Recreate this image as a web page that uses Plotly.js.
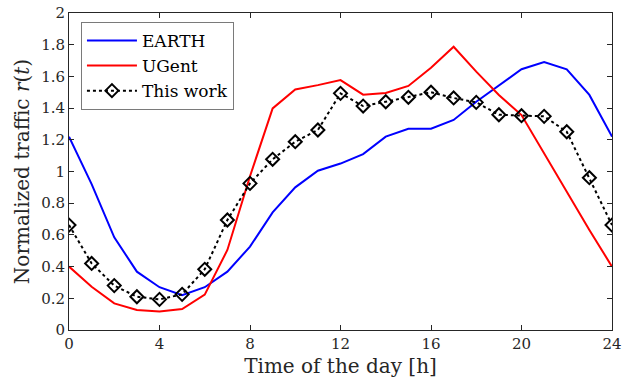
<!DOCTYPE html>
<html>
<head>
<meta charset="utf-8">
<script src="https://cdn.plot.ly/plotly-3.0.1.min.js"></script>
<style>html,body{margin:0;padding:0;background:#fff;}#chart{width:622px;height:387px;}</style>
</head>
<body>
<div id="chart"></div>
<script>
const hours = [0,1,2,3,4,5,6,7,8,9,10,11,12,13,14,15,16,17,18,19,20,21,22,23,24];
const earth = [1.22,0.92,0.585,0.368,0.27,0.22,0.27,0.368,0.526,0.742,0.90,1.005,1.05,1.11,1.22,1.27,1.27,1.325,1.44,1.545,1.645,1.69,1.645,1.483,1.22];
const ugent = [0.40,0.273,0.168,0.126,0.116,0.132,0.223,0.505,0.97,1.398,1.518,1.545,1.577,1.485,1.495,1.54,1.655,1.787,1.63,1.483,1.356,1.115,0.873,0.631,0.40];
const thisWork = [0.662,0.42,0.28,0.21,0.193,0.225,0.383,0.694,0.925,1.077,1.188,1.262,1.493,1.413,1.44,1.468,1.50,1.464,1.436,1.358,1.352,1.348,1.251,0.961,0.662];
const xTicks = [0,4,8,12,16,20,24];

const font = 'DejaVu Serif, Liberation Serif, serif';
const axisColor = '#262626';

const traces = [
  {x: hours, y: earth, name: 'EARTH', mode: 'lines', line: {color: '#0000ff', width: 2}},
  {x: hours, y: ugent, name: 'UGent', mode: 'lines', line: {color: '#ff0000', width: 2}},
  {x: hours, y: thisWork, name: 'This work', mode: 'lines+markers',
   line: {color: '#000000', width: 2, dash: 'dot'},
   marker: {symbol: 'diamond-open', size: 10, color: '#000000', line: {width: 2, color: '#000000'}}}
];

const layout = {
  width: 622, height: 387,
  margin: {l: 69, r: 10, t: 13, b: 57},
  paper_bgcolor: '#fff', plot_bgcolor: '#fff',
  font: {family: font, size: 15, color: axisColor},
  showlegend: true,
  legend: {x: 0.022, y: 0.972, xanchor: 'left', yanchor: 'top',
    bgcolor: '#fff', bordercolor: '#7a7a7a', borderwidth: 1,
    itemwidth: 50,
    font: {family: font, size: 17, color: '#000'}, tracegroupgap: 0},
  xaxis: {range: [0, 24], tickvals: xTicks, ticktext: xTicks.map(String),
    ticks: 'inside', ticklen: 5, tickcolor: axisColor, showline: true, linecolor: axisColor, linewidth: 1,
    mirror: 'ticks', showgrid: false, zeroline: false,
    tickfont: {family: font, size: 15, color: axisColor},
    title: {text: 'Time of the day [h]', font: {family: font, size: 20, color: axisColor}, standoff: 6}},
  yaxis: {range: [0, 2], dtick: 0.2, tick0: 0,
    ticks: 'inside', ticklen: 5, tickcolor: axisColor, showline: true, linecolor: axisColor, linewidth: 1,
    mirror: 'ticks', showgrid: false, zeroline: false,
    tickfont: {family: font, size: 15, color: axisColor},
    title: {text: 'Normalized traffic <i>r</i>(<i>t</i>)', font: {family: font, size: 20, color: axisColor}, standoff: 6}}
};

Plotly.newPlot('chart', traces, layout, {displayModeBar: false, staticPlot: true});
</script>
</body>
</html>
